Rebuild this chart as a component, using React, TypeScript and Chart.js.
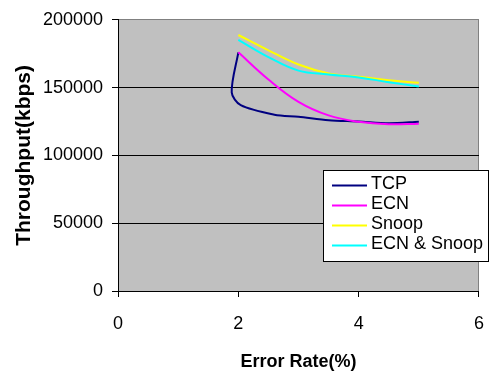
import React, { useEffect, useRef } from "react";
import { Chart, registerables } from "chart.js";

Chart.register(...registerables);

const seriesNames = ["TCP", "ECN", "Snoop", "ECN & Snoop"];
const seriesColors = ["#000080", "#FF00FF", "#FFFF00", "#00FFFF"];

const tcpX = [2.0, 1.89, 2.04, 2.6, 3.0, 3.5, 4.0, 4.5, 5.0];
const tcpY = [176000, 146500, 137000, 130000, 128500, 126000, 125000, 123700, 124800];

const ecnX = [2.0, 2.5, 3.0, 3.5, 4.0, 4.5, 5.0];
const ecnY = [176000, 156000, 139500, 129500, 124800, 123000, 123400];

const snoopX = [2.0, 2.5, 3.0, 3.5, 4.0, 4.5, 5.0];
const snoopY = [188800, 177500, 167000, 160500, 158000, 155500, 153500];

const bothX = [2.0, 2.5, 3.0, 3.5, 4.0, 4.5, 5.0];
const bothY = [185200, 172500, 162500, 159700, 157500, 154000, 150800];

const xTicks = [0, 2, 4, 6];
const yTicks = [0, 50000, 100000, 150000, 200000];

const xTitle = "Error Rate(%)";
const yTitle = "Throughput(kbps)";

const zip = (xs: number[], ys: number[]) => xs.map((x, i) => ({ x, y: ys[i] }));

const ARIAL = "'Liberation Sans', Arial, sans-serif";

const plotPlugin = {
  id: "plotDecor",
  beforeDraw(chart: any) {
    const { ctx, chartArea: a } = chart;
    ctx.save();
    ctx.fillStyle = "#C0C0C0";
    ctx.fillRect(a.left, a.top, a.right - a.left, a.bottom - a.top);
    ctx.restore();
  },
  afterDraw(chart: any) {
    const { ctx } = chart;
    const bx = 323.5, by = 170.5, bw = 165, bh = 91;
    ctx.save();
    ctx.fillStyle = "#FFFFFF";
    ctx.fillRect(bx, by, bw, bh);
    ctx.strokeStyle = "#000000";
    ctx.lineWidth = 1;
    ctx.strokeRect(bx, by, bw, bh);
    ctx.font = `18px ${ARIAL}`;
    ctx.textBaseline = "middle";
    ctx.textAlign = "left";
    chart.data.datasets.forEach((ds: any, i: number) => {
      const y = 184 + i * 20;
      ctx.strokeStyle = ds.borderColor;
      ctx.lineWidth = 2;
      ctx.beginPath();
      ctx.moveTo(332, y + 1.5);
      ctx.lineTo(367, y + 1.5);
      ctx.stroke();
      ctx.fillStyle = "#000000";
      ctx.fillText(ds.label, 371, y);
    });
    ctx.restore();
  },
};

export default function App() {
  const ref = useRef<HTMLCanvasElement | null>(null);

  useEffect(() => {
    document.body.style.margin = "0";
    const canvas = ref.current!;
    const datasets = [
      zip(tcpX, tcpY),
      zip(ecnX, ecnY),
      zip(snoopX, snoopY),
      zip(bothX, bothY),
    ].map((data, i) => ({
      label: seriesNames[i],
      data,
      borderColor: seriesColors[i],
      backgroundColor: seriesColors[i],
      borderWidth: 2,
      pointRadius: 0,
      tension: i === 0 ? 0.3 : 0.4,
      fill: false,
      order: 3 - i,
    }));

    const chart = new Chart(canvas, {
      type: "line",
      data: { datasets },
      plugins: [plotPlugin],
      options: {
        animation: false,
        responsive: false,
        devicePixelRatio: 1,
        layout: { padding: { top: 17, right: 6, left: 0, bottom: 0 } },
        plugins: { legend: { display: false }, tooltip: { enabled: false } },
        scales: {
          x: {
            type: "linear",
            min: 0,
            max: 6,
            afterBuildTicks: (s: any) => {
              s.ticks = xTicks.map((v) => ({ value: v }));
            },
            afterFit: (s: any) => {
              s.height = 84;
            },
            ticks: {
              color: "#000000",
              font: { family: ARIAL, size: 18 },
              padding: 16,
              maxRotation: 0,
              callback: (v: any) => String(v),
            },
            grid: {
              color: (c: any) => (c.tick && c.tick.value === 6 ? "#808080" : "rgba(0,0,0,0)"),
              tickColor: "#000000",
              tickLength: 6,
              lineWidth: 1,
            },
            border: { color: "#000000", width: 1 },
            title: {
              display: true,
              text: xTitle,
              color: "#000000",
              font: { family: ARIAL, size: 18, weight: "bold" },
              padding: { top: 0, bottom: 2 },
            },
          },
          y: {
            type: "linear",
            min: 0,
            max: 200000,
            afterBuildTicks: (s: any) => {
              s.ticks = yTicks.map((v) => ({ value: v }));
            },
            afterFit: (s: any) => {
              s.width = 118;
            },
            ticks: {
              color: "#000000",
              font: { family: ARIAL, size: 18 },
              padding: 9,
              callback: (v: any) => String(v),
            },
            grid: {
              color: (c: any) => (c.tick && c.tick.value === 200000 ? "#808080" : "#000000"),
              tickColor: "#000000",
              tickLength: 6,
              lineWidth: 1,
            },
            border: { color: "#000000", width: 1 },
            title: {
              display: true,
              text: yTitle,
              color: "#000000",
              font: { family: ARIAL, size: 21, weight: "bold" },
              padding: { top: 12, bottom: 0 },
            },
          },
        },
      },
    } as any);
    return () => chart.destroy();
  }, []);

  return (
    <div style={{ width: 500, height: 375, background: "#FFFFFF" }}>
      <canvas ref={ref} width={500} height={375} style={{ display: "block" }} />
    </div>
  );
}
